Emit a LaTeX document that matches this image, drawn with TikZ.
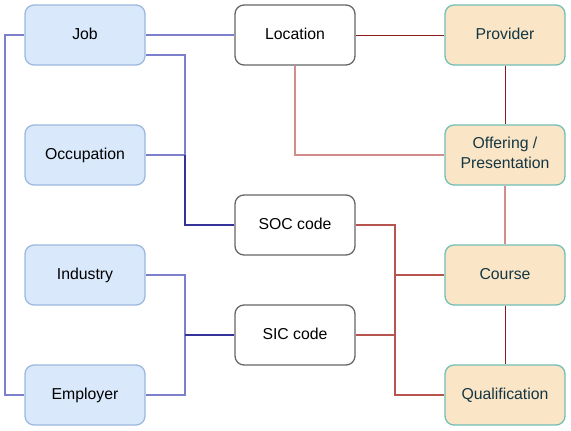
\documentclass[tikz,border=0pt]{standalone}
\usepackage{fontspec}
\setmainfont{Liberation Sans}
\definecolor{bluefill}{HTML}{DAE8FC}
\definecolor{bluestroke}{HTML}{9DB8DE}
\definecolor{graystroke}{HTML}{666666}
\definecolor{orangefill}{HTML}{FAE5C7}
\definecolor{tealstroke}{HTML}{72BFB5}
\definecolor{darktext}{HTML}{143642}
\definecolor{lineblue}{HTML}{7B7FCC}
\definecolor{linedarkblue}{HTML}{333399}
\definecolor{linered}{HTML}{B85450}
\definecolor{linelightred}{HTML}{D48D8B}
\definecolor{linedarkred}{HTML}{8B1A1A}
\tikzset{
  box/.style={rounded corners=9pt,minimum width=120pt,minimum height=60pt,line width=1.3pt,inner sep=0pt,align=center,font=\fontsize{15.8}{20}\selectfont},
  oneline/.style={text height=11.5pt,text depth=3.5pt},
  bluebox/.style={box,oneline,draw=bluestroke,fill=bluefill},
  whitebox/.style={box,oneline,draw=graystroke,fill=white},
  orangebox/.style={box,oneline,draw=tealstroke,fill=orangefill,text=darktext},
  connblue/.style={color=lineblue,line width=1.2pt},
  conndarkblue/.style={color=linedarkblue,line width=1.2pt},
  connred/.style={color=linered,line width=1.2pt},
  connlightred/.style={color=linelightred,line width=1.2pt},
  conndarkred/.style={color=linedarkred,line width=1pt}}
\begin{document}
\begin{tikzpicture}[x=1pt,y=-1pt]
\useasboundingbox (0,0) rectangle (571,431);
\fill[white] (0,0) rectangle (571,431);
% nodes
\node[bluebox] (job) at (85,35) {Job};
\node[bluebox] (occ) at (85,155) {Occupation};
\node[bluebox] (ind) at (85,275) {Industry};
\node[bluebox] (emp) at (85,395) {Employer};
\node[whitebox] (loc) at (295,35) {Location};
\node[whitebox] (soc) at (295,225) {SOC code};
\node[whitebox] (sic) at (295,335) {SIC code};
\node[orangebox] (prov) at (505,35) {Provider};
\node[orangebox,text height=0pt,text depth=0pt] (off) at (505,155)
  {\raisebox{-13pt}[0pt][0pt]{\begin{tabular}[b]{@{}c@{}}Offering /\\Presentation\end{tabular}}};
\node[orangebox] (course) at (505,275) {Course};
\node[orangebox] (qual) at (505,395) {Qualification};
\coordinate (jb) at (185,225);
\coordinate (ib) at (185,335);
\coordinate (rb) at (395,275);
\coordinate (rq) at (395,395);
% connectors
\draw[connblue] (job.east) -- (loc.west);
\draw[connblue] (job.east |- 0,55) -- (185,55) -- (jb);
\draw[connblue] (occ.east) -- (185,155);
\draw[conndarkblue] (185,155) -- (jb) -- (soc.west);
\draw[connblue] (job.west) -- (5,35) -- (5,395) -- (emp.west);
\draw[connblue] (ind.east) -- (185,275) -- (ib);
\draw[connblue] (emp.east) -- (185,395) -- (ib);
\draw[conndarkblue] (ib) -- (sic.west);
\draw[conndarkred] (loc.east) -- (prov.west);
\draw[connlightred] (loc.south) -- (295,155) -- (off.west);
\draw[conndarkred] (prov.south) -- (off.north);
\draw[connlightred] (off.south) -- (course.north);
\draw[conndarkred] (course.south) -- (qual.north);
\draw[connred] (soc.east) -- (395,225) -- (rq) -- (qual.west);
\draw[connred] (rb) -- (course.west);
\draw[connred] (sic.east) -- (395,335);
\end{tikzpicture}
\end{document}
